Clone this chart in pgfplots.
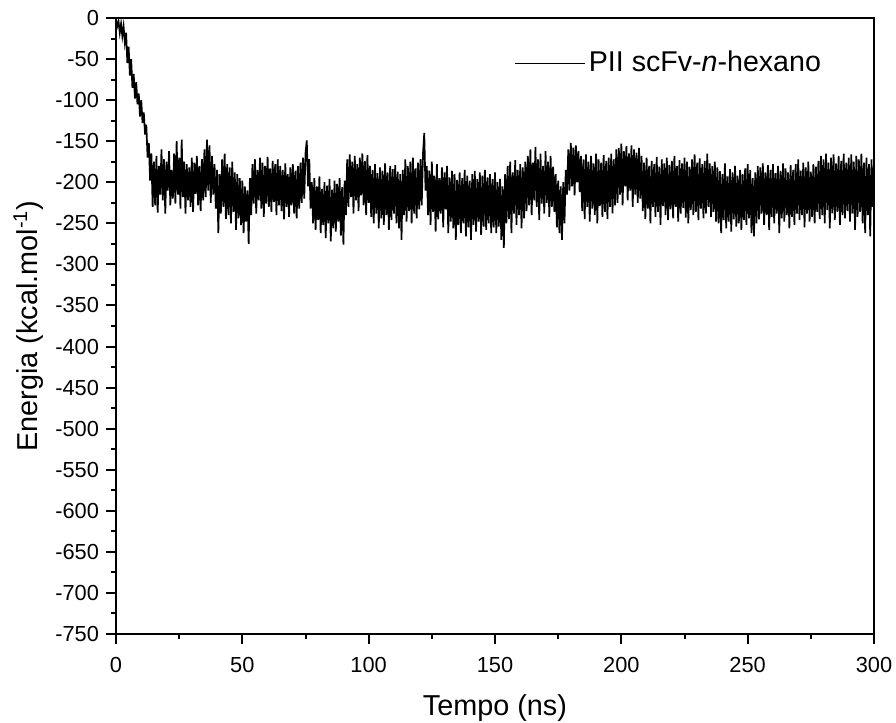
\documentclass[border=0pt]{standalone}
\usepackage{pgfplots}
\pgfplotsset{compat=1.18}
\usepackage{fontspec}
\setmainfont{Liberation Sans}
\begin{document}
\begin{tikzpicture}
\begin{axis}[
  scale only axis,
  width=379pt, height=308pt,
  xmin=0, xmax=300, ymin=-750, ymax=0,
  xtick={0,50,...,300},
  ytick={-750,-700,...,0},
  minor x tick num=1, minor y tick num=1,
  tick pos=left,
  tick align=outside,
  major tick length=5pt, minor tick length=2.5pt,
  every tick/.style={black, line width=1pt},
  axis line style={line width=1pt},
  /pgf/number format/assume math mode=true,
  /pgf/number format/1000 sep={},
  tick label style={font=\fontsize{10.9}{12}\selectfont},
  xticklabel style={yshift=-3pt},
  label style={font=\fontsize{14.4}{17}\selectfont},
  xlabel={Tempo (ns)},
  ylabel={Energia (kcal.mol\textsuperscript{-1})},
  xlabel style={yshift=-4pt},
  ylabel style={yshift=-1pt},
  legend style={at={(0.935,0.927)}, anchor=east, draw=none, fill=none,
    font=\fontsize{14.3}{17}\selectfont, inner sep=0pt,
    nodes={inner sep=1.7pt}},
  legend image code/.code={\draw[#1, line width=0.45pt] (0pt,0pt) -- (35pt,0pt);},
]
\addplot[black, line width=0.85pt] coordinates {
(0,-2)(0.5,-10)(1,-4)(1.5,-18)(2,-7)(2.5,-22)(3,-10)
(3.5,-30)(4,-18)(4.5,-55)(5,-35)(5.5,-70)(6,-50)(6.5,-85)(7,-68)(7.5,-98)(8,-78)(8.5,-105)(9,-92)(9.5,-120)(10,-100)(10.5,-128)(11,-115)(11.5,-142)(12,-130)(12.5,-170)
(13,-152)(13.5,-198)(14,-165)(14.5,-230)(15,-175)
(15.5,-228)(16,-168)(16.5,-237)(17,-180)(17.5,-215)(18,-160)(18.5,-222)(19,-172)(19.5,-238)(20,-175)(20.5,-210)(21,-162)(21.5,-228)(22,-185)(22.5,-220)(23,-165)(23.5,-226)(24,-150)(24.5,-215)(25,-170)
(25.5,-232)(26,-148)(26.5,-218)(27,-175)(27.5,-238)(28,-178)(28.5,-222)(29,-182)(29.5,-230)(30,-170)(30.5,-236)(31,-176)(31.5,-214)(32,-168)(32.5,-228)(33,-180)(33.5,-235)(34,-172)(34.5,-222)(35,-160)
(35.5,-218)(36,-148)(36.5,-210)(37,-155)(37.5,-225)(38,-168)(38.5,-215)(39,-178)(39.5,-232)(40,-185)(40.5,-262)(41,-190)(41.5,-238)(42,-172)(42.5,-230)(43,-165)(43.5,-245)(44,-178)(44.5,-240)(45,-182)
(45.5,-250)(46,-175)(46.5,-236)(47,-188)(47.5,-258)(48,-190)(48.5,-244)(49,-195)(49.5,-252)(50,-198)
(50.5,-262)(51,-205)(51.5,-248)(52,-210)(52.5,-275)(53,-195)
(53.5,-240)(54,-178)(54.5,-226)(55,-172)(55.5,-238)(56,-185)(56.5,-222)(57,-170)(57.5,-232)(58,-176)(58.5,-242)(59,-180)(59.5,-226)(60,-169)(60.5,-230)(61,-183)(61.5,-236)(62,-174)(62.5,-224)(63,-178)(63.5,-240)(64,-172)(64.5,-228)(65,-180)
(65.5,-235)(66,-185)(66.5,-245)(67,-177)(67.5,-230)(68,-190)(68.5,-242)(69,-182)(69.5,-228)(70,-178)(70.5,-238)(71,-186)(71.5,-244)(72,-180)(72.5,-232)(73,-176)(73.5,-225)(74,-170)(74.5,-220)(75,-165)
(75.5,-149)(76,-205)(76.5,-172)(77,-232)
(77.5,-200)(78,-250)(78.5,-195)(79,-258)(79.5,-205)(80,-246)(80.5,-193)(81,-262)(81.5,-208)(82,-252)(82.5,-200)(83,-268)(83.5,-204)(84,-250)(84.5,-196)(85,-272)(85.5,-209)(86,-256)(86.5,-198)(87,-260)(87.5,-202)(88,-248)(88.5,-195)(89,-265)(89.5,-206)(90,-276)(90.5,-198)(91,-240)
(91.5,-172)(92,-230)(92.5,-166)(93,-218)(93.5,-175)(94,-238)(94.5,-168)(95,-222)(95.5,-178)(96,-235)(96.5,-170)(97,-216)(97.5,-165)(98,-228)(98.5,-174)(99,-240)(99.5,-167)(100,-225)
(100.5,-180)(101,-242)(101.5,-185)(102,-250)(102.5,-178)(103,-238)(103.5,-189)(104,-256)(104.5,-182)(105,-244)(105.5,-186)(106,-252)(106.5,-177)(107,-240)(107.5,-188)(108,-258)(108.5,-180)(109,-246)(109.5,-184)(110,-238)(110.5,-179)(111,-250)(111.5,-187)(112,-256)(112.5,-190)(113,-270)
(113.5,-185)(114,-240)(114.5,-172)(115,-248)(115.5,-180)(116,-235)(116.5,-175)(117,-250)(117.5,-170)(118,-238)(118.5,-183)(119,-244)(119.5,-176)(120,-233)(120.5,-172)(121,-228)(121.5,-165)
(122,-140)(122.5,-210)
(123,-180)(123.5,-240)(124,-186)(124.5,-252)(125,-175)(125.5,-236)(126,-192)(126.5,-260)(127,-178)(127.5,-245)(128,-195)(128.5,-238)(129,-182)(129.5,-255)(130,-188)(130.5,-233)(131,-180)(131.5,-262)(132,-194)(132.5,-248)(133,-186)
(133.5,-256)(134,-190)(134.5,-270)(135,-197)(135.5,-252)(136,-188)(136.5,-262)(137,-195)(137.5,-250)(138,-185)(138.5,-266)(139,-192)(139.5,-255)(140,-198)(140.5,-270)(141,-190)(141.5,-252)(142,-186)(142.5,-260)(143,-196)(143.5,-248)(144,-188)(144.5,-264)(145,-192)(145.5,-254)(146,-185)(146.5,-258)(147,-194)(147.5,-250)(148,-190)(148.5,-262)(149,-196)(149.5,-255)(150,-188)
(150.5,-262)(151,-200)(151.5,-254)(152,-196)(152.5,-270)(153,-205)(153.5,-280)(154,-190)
(154.5,-250)(155,-180)(155.5,-245)(156,-175)(156.5,-262)(157,-188)(157.5,-238)(158,-173)(158.5,-252)(159,-185)(159.5,-240)(160,-178)(160.5,-256)(161,-182)(161.5,-244)(162,-175)
(162.5,-235)(163,-168)(163.5,-228)(164,-160)(164.5,-240)(165,-176)(165.5,-222)(166,-157)(166.5,-230)(167,-172)(167.5,-246)(168,-165)(168.5,-226)(169,-180)(169.5,-238)(170,-162)(170.5,-225)(171,-175)(171.5,-242)(172,-168)(172.5,-230)(173,-181)(173.5,-236)(174,-190)
(174.5,-255)(175,-198)(175.5,-262)(176,-205)(176.5,-270)(177,-200)(177.5,-250)(178,-185)
(178.5,-215)(179,-160)(179.5,-210)(180,-152)(180.5,-205)(181,-158)(181.5,-216)(182,-155)(182.5,-200)(183,-162)(183.5,-212)(184,-168)
(184.5,-235)(185,-172)(185.5,-245)(186,-166)(186.5,-230)(187,-175)(187.5,-248)(188,-168)(188.5,-232)(189,-177)(189.5,-240)(190,-165)(190.5,-250)(191,-172)(191.5,-229)(192,-176)(192.5,-242)(193,-167)(193.5,-236)(194,-174)(194.5,-245)(195,-170)(195.5,-230)(196,-165)(196.5,-238)(197,-172)(197.5,-228)(198,-160)(198.5,-225)
(199,-158)(199.5,-215)(200,-153)(200.5,-228)(201,-162)(201.5,-205)(202,-156)(202.5,-222)(203,-165)(203.5,-210)(204,-155)(204.5,-230)(205,-160)(205.5,-215)(206,-164)(206.5,-225)(207,-158)(207.5,-220)(208,-168)
(208.5,-235)(209,-176)(209.5,-245)(210,-170)(210.5,-232)(211,-180)(211.5,-250)(212,-174)(212.5,-230)(213,-178)(213.5,-242)(214,-169)(214.5,-236)(215,-181)(215.5,-252)(216,-172)(216.5,-229)(217,-177)(217.5,-240)(218,-170)(218.5,-246)(219,-179)(219.5,-233)(220,-174)(220.5,-244)(221,-168)(221.5,-230)(222,-180)(222.5,-248)(223,-173)(223.5,-238)(224,-177)(224.5,-231)(225,-170)(225.5,-243)(226,-175)(226.5,-250)(227,-181)(227.5,-234)(228,-172)(228.5,-240)(229,-166)(229.5,-236)(230,-176)(230.5,-246)(231,-171)(231.5,-232)(232,-178)(232.5,-244)(233,-174)(233.5,-238)(234,-165)(234.5,-230)(235,-177)(235.5,-242)(236,-180)(236.5,-236)(237,-175)(237.5,-248)(238,-182)
(238.5,-250)(239,-186)(239.5,-262)(240,-190)(240.5,-246)(241,-177)(241.5,-256)(242,-193)(242.5,-248)(243,-184)(243.5,-260)(244,-188)(244.5,-245)(245,-180)(245.5,-254)(246,-192)(246.5,-250)(247,-185)(247.5,-258)(248,-190)(248.5,-246)(249,-183)(249.5,-252)(250,-178)
(250.5,-244)(251,-185)(251.5,-262)(252,-195)(252.5,-266)(253,-188)(253.5,-250)(254,-180)
(254.5,-245)(255,-182)(255.5,-238)(256,-177)(256.5,-252)(257,-188)(257.5,-240)(258,-179)(258.5,-258)(259,-185)(259.5,-242)(260,-178)(260.5,-250)(261,-189)(261.5,-238)(262,-180)(262.5,-262)(263,-186)(263.5,-244)(264,-177)(264.5,-248)(265,-183)(265.5,-240)(266,-188)(266.5,-256)(267,-179)(267.5,-242)(268,-185)(268.5,-252)(269,-178)(269.5,-238)(270,-172)(270.5,-246)(271,-186)(271.5,-240)(272,-176)(272.5,-255)(273,-182)(273.5,-238)(274,-175)(274.5,-248)(275,-187)(275.5,-242)(276,-178)(276.5,-250)(277,-181)(277.5,-236)(278,-174)(278.5,-245)(279,-168)
(279.5,-240)(280,-172)(280.5,-250)(281,-165)(281.5,-234)(282,-176)(282.5,-256)(283,-170)(283.5,-238)(284,-166)(284.5,-246)(285,-177)(285.5,-236)(286,-168)(286.5,-252)(287,-174)(287.5,-240)(288,-165)(288.5,-244)(289,-176)(289.5,-235)(290,-170)(290.5,-248)(291,-166)(291.5,-238)(292,-175)(292.5,-258)(293,-168)(293.5,-242)(294,-172)(294.5,-236)(295,-165)(295.5,-250)(296,-176)(296.5,-262)(297,-170)(297.5,-240)(298,-178)(298.5,-266)(299,-172)(299.5,-230)(300,-175)
};
\addlegendentry{PII scFv-\textit{n}-hexano}
\end{axis}
\pgfresetboundingbox
\path ([xshift=-58pt,yshift=-44pt]current axis.south west) rectangle ([xshift=11pt,yshift=9pt]current axis.north east);
\end{tikzpicture}
\end{document}
